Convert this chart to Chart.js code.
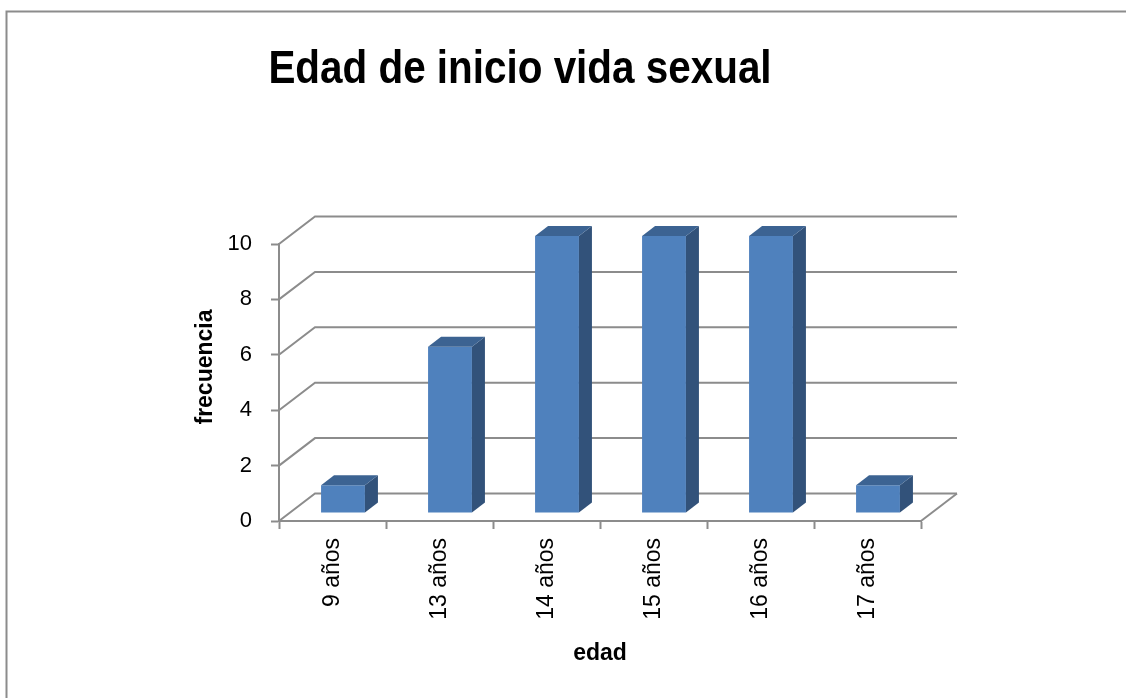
<!DOCTYPE html>
<html>
<head>
<meta charset="utf-8">
<script src="https://cdn.jsdelivr.net/npm/chart.js@4.4.1/dist/chart.umd.min.js"></script>
<style>
  html, body { margin: 0; padding: 0; background: #fff; }
  #wrap { width: 1126px; height: 698px; }
</style>
</head>
<body>
<div id="wrap"><canvas id="edadChart" width="1126" height="698"></canvas></div>
<script>
// datos
const edades = ["9 años", "13 años", "14 años", "15 años", "16 años", "17 años"];
const frecuencia = [1, 6, 10, 10, 10, 1];
const yMin = 0;
const yMax = 10;
const yPaso = 2;
const titulo = "Edad de inicio vida sexual";

const gris = "#8c8c8c";
const azul = "#4F81BD";
const azulLado = "#32527A";
const azulTecho = "#3C6392";

// profundidad del "3D"
const pared = { dx: 36, dy: -27.5 };
const desplaz = { dx: 10.5, dy: -8 };
const fondo = { dx: 13, dy: -10 };

const efecto3d = {
  id: "efecto3d",
  beforeDraw(chart) {
    const ctx = chart.ctx;
    ctx.save();
    ctx.strokeStyle = gris;
    ctx.lineWidth = 2;
    ctx.beginPath();
    ctx.moveTo(6.5, chart.height);
    ctx.lineTo(6.5, 11.5);
    ctx.lineTo(chart.width, 11.5);
    ctx.stroke();

    // titulo (algo estrecho, como el original)
    ctx.translate(520, 82.5);
    ctx.scale(0.86, 1);
    ctx.fillStyle = "#000";
    ctx.font = "bold 47px 'Liberation Sans', Arial, sans-serif";
    ctx.textAlign = "center";
    ctx.textBaseline = "alphabetic";
    ctx.fillText(titulo, 0, 0);
    ctx.restore();
  },
  beforeDatasetsDraw(chart) {
    const ctx = chart.ctx;
    const a = chart.chartArea;
    const y = chart.scales.y;
    ctx.save();
    ctx.strokeStyle = gris;
    ctx.lineWidth = 2;
    y.ticks.forEach(t => {
      const py = y.getPixelForValue(t.value);
      ctx.beginPath();
      ctx.moveTo(a.left, py);
      ctx.lineTo(a.left + pared.dx, py + pared.dy);
      ctx.lineTo(a.right + pared.dx, py + pared.dy);
      ctx.stroke();
    });
    ctx.beginPath();
    ctx.moveTo(a.right, a.bottom);
    ctx.lineTo(a.right + pared.dx, a.bottom + pared.dy);
    ctx.stroke();

    // titulo del eje y
    ctx.translate(206, 367);
    ctx.rotate(-Math.PI / 2);
    ctx.fillStyle = "#000";
    ctx.font = "bold 23px 'Liberation Sans', Arial, sans-serif";
    ctx.textAlign = "center";
    ctx.textBaseline = "middle";
    ctx.fillText("frecuencia", 0, 0);
    ctx.restore();

    ctx.save();
    ctx.translate(desplaz.dx, desplaz.dy);
  },
  afterDatasetsDraw(chart) {
    const ctx = chart.ctx;
    ctx.restore();
    const meta = chart.getDatasetMeta(0);
    ctx.save();
    meta.data.forEach(bar => {
      const p = bar.getProps(["x", "y", "base", "width"], true);
      const l = p.x - p.width / 2 + desplaz.dx;
      const r = p.x + p.width / 2 + desplaz.dx;
      const t = p.y + desplaz.dy;
      const b = p.base + desplaz.dy;
      ctx.fillStyle = azulLado;
      ctx.beginPath();
      ctx.moveTo(r, t);
      ctx.lineTo(r + fondo.dx, t + fondo.dy);
      ctx.lineTo(r + fondo.dx, b + fondo.dy);
      ctx.lineTo(r, b);
      ctx.closePath();
      ctx.fill();
      ctx.fillStyle = azulTecho;
      ctx.beginPath();
      ctx.moveTo(l, t);
      ctx.lineTo(l + fondo.dx, t + fondo.dy);
      ctx.lineTo(r + fondo.dx, t + fondo.dy);
      ctx.lineTo(r, t);
      ctx.closePath();
      ctx.fill();
    });
    ctx.restore();
  }
};

const ctx = document.getElementById("edadChart").getContext("2d");
new Chart(ctx, {
  type: "bar",
  data: {
    labels: edades,
    datasets: [{
      label: "frecuencia",
      data: frecuencia,
      backgroundColor: azul,
      borderWidth: 0,
      categoryPercentage: 1,
      barPercentage: 0.41,
      clip: false
    }]
  },
  options: {
    responsive: false,
    animation: false,
    devicePixelRatio: 1,
    layout: { padding: { left: 119, right: 205, top: 244, bottom: 0 } },
    plugins: {
      legend: { display: false },
      tooltip: { enabled: false },
      title: { display: false }
    },
    scales: {
      x: {
        afterFit: s => { s.height = 177; },
        grid: { drawOnChartArea: false, drawTicks: true, tickLength: 8, tickColor: gris, tickWidth: 2 },
        border: { display: true, color: gris, width: 2 },
        ticks: {
          color: "#000",
          font: { family: "'Liberation Sans', Arial, sans-serif", size: 23 },
          minRotation: 90,
          maxRotation: 90,
          autoSkip: false,
          padding: 9
        },
        title: {
          display: true,
          text: "edad",
          color: "#000",
          font: { family: "'Liberation Sans', Arial, sans-serif", size: 23, weight: "bold" },
          padding: { top: 0, bottom: 31 }
        }
      },
      y: {
        min: yMin,
        max: yMax,
        afterFit: s => { s.width = 160; },
        grid: { drawOnChartArea: false, drawTicks: true, tickLength: 8, tickColor: gris, tickWidth: 2 },
        border: { display: true, color: gris, width: 2 },
        ticks: {
          stepSize: yPaso,
          color: "#000",
          font: { family: "'Liberation Sans', Arial, sans-serif", size: 22 },
          padding: 19
        }
      }
    }
  },
  plugins: [efecto3d]
});
</script>
</body>
</html>
